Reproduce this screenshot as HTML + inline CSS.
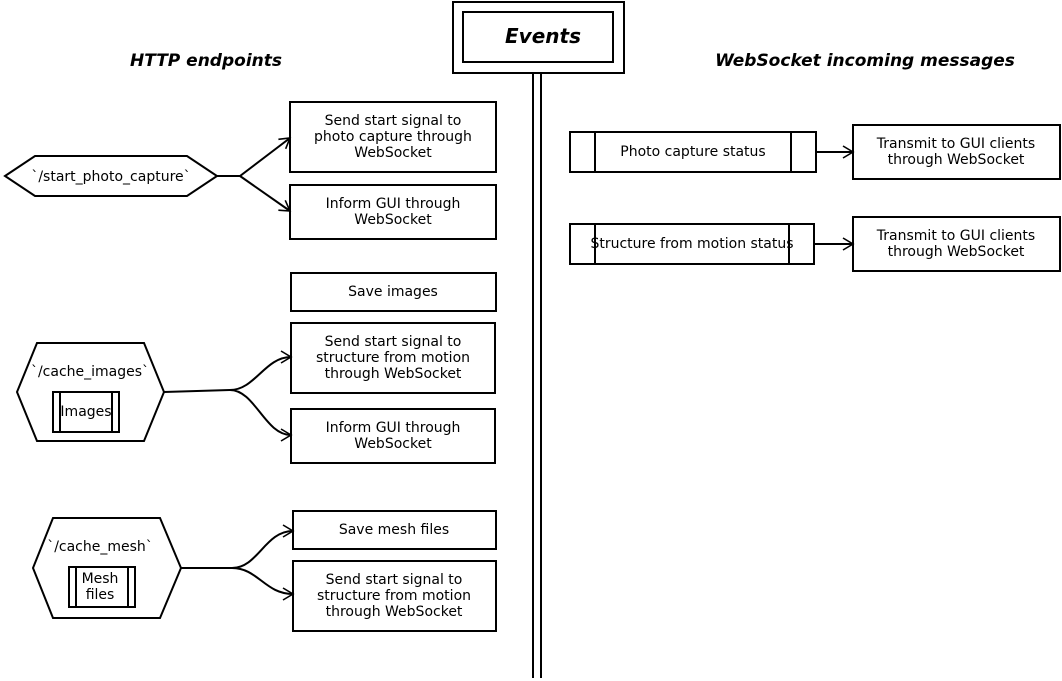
<!DOCTYPE html>
<html><head><meta charset="utf-8"><style>
html,body{margin:0;padding:0;background:#fff;width:1062px;height:681px;overflow:hidden}
text{font-family:"DejaVu Sans","Liberation Sans",sans-serif;font-size:14px;fill:#000}
.t{font-weight:bold;font-style:italic;font-size:17px}
</style></head><body>
<svg width="1062" height="681" viewBox="0 0 1062 681" xmlns="http://www.w3.org/2000/svg">
<defs><marker id="a" markerWidth="14" markerHeight="14" refX="11" refY="7" orient="auto" markerUnits="userSpaceOnUse"><path d="M1,1 L11,7 L1,13" fill="none" stroke="#000" stroke-width="1.6"/></marker></defs>
<g fill="none" stroke="#000" stroke-width="2">
<rect x="453" y="2" width="171" height="71"/>
<rect x="463" y="12" width="150" height="50"/>
<line x1="533" y1="74" x2="533" y2="678"/>
<line x1="541" y1="74" x2="541" y2="678"/>
<polygon points="5,176 35,156 187,156 217,176 187,196 35,196"/>
<path d="M217,176 L240,176 L290,138" marker-end="url(#a)"/>
<path d="M240,176 L290,211" marker-end="url(#a)"/>
<rect x="290" y="102" width="206" height="70"/>
<rect x="290" y="185" width="206" height="54"/>
<rect x="291" y="273" width="205" height="38"/>
<rect x="291" y="323" width="204" height="70"/>
<rect x="291" y="409" width="204" height="54"/>
<polygon points="17,392 37,343 144,343 164,392 144,441 37,441"/>
<rect x="53" y="392" width="66" height="40"/><line x1="60" y1="392" x2="60" y2="432"/><line x1="112" y1="392" x2="112" y2="432"/>
<path d="M164,392 L230,390 C255,390 265,357 291,357" marker-end="url(#a)"/>
<path d="M230,390 C255,390 265,435 291,435" marker-end="url(#a)"/>
<polygon points="33,568 53,518 160,518 181,568 160,618 53,618"/>
<rect x="69" y="567" width="66" height="40"/><line x1="76" y1="567" x2="76" y2="607"/><line x1="128" y1="567" x2="128" y2="607"/>
<path d="M181,568 L232,568 C258,568 265,531 293,531" marker-end="url(#a)"/>
<path d="M232,568 C258,568 265,594 293,594" marker-end="url(#a)"/>
<rect x="293" y="511" width="203" height="38"/>
<rect x="293" y="561" width="203" height="70"/>
<rect x="570" y="132" width="246" height="40"/><line x1="595" y1="132" x2="595" y2="172"/><line x1="791" y1="132" x2="791" y2="172"/>
<path d="M816,152 L853,152" marker-end="url(#a)"/>
<rect x="853" y="125" width="207" height="54"/>
<rect x="570" y="224" width="244" height="40"/><line x1="595" y1="224" x2="595" y2="264"/><line x1="789" y1="224" x2="789" y2="264"/>
<path d="M814,244 L853,244" marker-end="url(#a)"/>
<rect x="853" y="217" width="207" height="54"/>
</g>
<text x="543" y="43" text-anchor="middle" class="t" style="font-size:20px">Events</text>
<text x="206" y="66" text-anchor="middle" class="t">HTTP endpoints</text>
<text x="865" y="66" text-anchor="middle" class="t">WebSocket incoming messages</text>
<g text-anchor="middle">
<text x="111" y="181">`/start_photo_capture`</text>
<text x="393" y="125">Send start signal to</text><text x="393" y="141">photo capture through</text><text x="393" y="157">WebSocket</text>
<text x="393" y="208">Inform GUI through</text><text x="393" y="224">WebSocket</text>
<text x="393" y="296">Save images</text>
<text x="393" y="346">Send start signal to</text><text x="393" y="362">structure from motion</text><text x="393" y="378">through WebSocket</text>
<text x="393" y="432">Inform GUI through</text><text x="393" y="448">WebSocket</text>
<text x="90" y="376">`/cache_images`</text>
<text x="86" y="416">Images</text>
<text x="100" y="551">`/cache_mesh`</text>
<text x="100" y="583">Mesh</text><text x="100" y="599">files</text>
<text x="394" y="534">Save mesh files</text>
<text x="394" y="584">Send start signal to</text><text x="394" y="600">structure from motion</text><text x="394" y="616">through WebSocket</text>
<text x="693" y="156">Photo capture status</text>
<text x="956" y="148">Transmit to GUI clients</text><text x="956" y="164">through WebSocket</text>
<text x="692" y="248">Structure from motion status</text>
<text x="956" y="240">Transmit to GUI clients</text><text x="956" y="256">through WebSocket</text>
</g>
</svg>
</body></html>
